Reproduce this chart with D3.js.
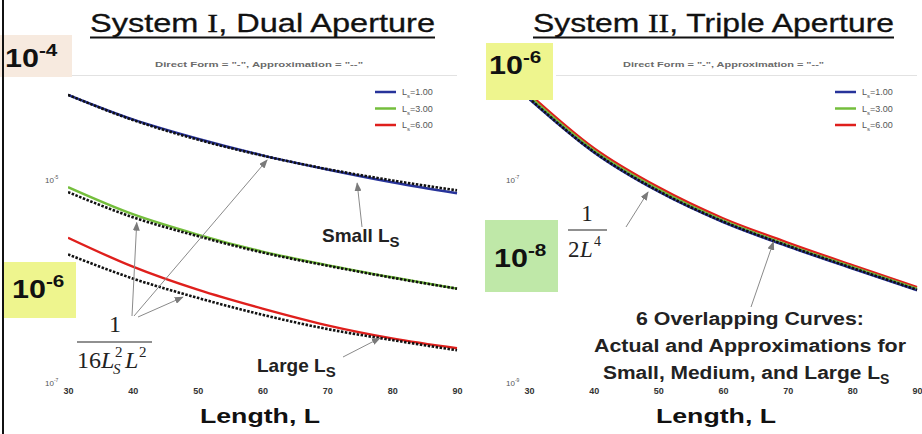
<!DOCTYPE html>
<html>
<head>
<meta charset="utf-8">
<script src="https://cdnjs.cloudflare.com/ajax/libs/d3/7.8.5/d3.min.js"></script>
<style>
	body { margin: 0; background: #fff; }
	svg { display: block; }
	.sans { font-family: "Liberation Sans", Arial, sans-serif; }
	.serif { font-family: "Liberation Serif", "Times New Roman", serif; }
	.tick text { font-family: "Liberation Sans", Arial, sans-serif; font-size: 9px; font-weight: bold; fill: #333; }
	.arrowLine { stroke: #8a8a8a; stroke-width: 1; fill: none; }
</style>
</head>
<body>
<div id="chart"></div>
<script>
//--------------------------------- Data ---------------------------------

var lengths = [30, 40, 50, 60, 70, 80, 90];
var xTicks = [30, 40, 50, 60, 70, 80, 90];
var legendLabels = ["1.00", "3.00", "6.00"];

//System I, dual aperture: direct form (solid) and approximation (dashed)
var dualDirect_Ls1 = [6.9e-5, 3.95e-5, 2.55e-5, 1.75e-5, 1.27e-5, 9.5e-6, 7.4e-6];
var dualApprox_Ls1 = [6.9e-5, 3.9e-5, 2.5e-5, 1.74e-5, 1.28e-5, 9.9e-6, 7.9e-6];
var dualDirect_Ls3 = [8.5e-6, 4.6e-6, 2.9e-6, 1.97e-6, 1.45e-6, 1.1e-6, 8.5e-7];
var dualApprox_Ls3 = [7.6e-6, 4.3e-6, 2.8e-6, 1.93e-6, 1.43e-6, 1.09e-6, 8.5e-7];
var dualDirect_Ls6 = [2.7e-6, 1.4e-6, 8.3e-7, 5.4e-7, 3.7e-7, 2.75e-7, 2.2e-7];
var dualApprox_Ls6 = [1.85e-6, 1.07e-6, 6.9e-7, 4.7e-7, 3.4e-7, 2.65e-7, 2.1e-7];

//System II, triple aperture: all six curves nearly overlap
var tripleDirect_Ls1 = [6.3e-7, 1.88e-7, 7.7e-8, 3.85e-8, 2.22e-8, 1.34e-8, 8.2e-9];
var tripleDirect_Ls3 = [6.7e-7, 1.97e-7, 8.1e-8, 4.0e-8, 2.3e-8, 1.39e-8, 8.5e-9];
var tripleDirect_Ls6 = [7.1e-7, 2.07e-7, 8.5e-8, 4.2e-8, 2.42e-8, 1.45e-8, 8.8e-9];
var tripleApprox = [6.4e-7, 1.9e-7, 7.8e-8, 3.9e-8, 2.25e-8, 1.36e-8, 8.3e-9];

//Visible y tick labels (exponents), the others are covered by the pasted boxes
var dualYTicks = [-5, -7];
var tripleYTicks = [-7, -9];

var seriesColors = ["#27339a", "#74be3c", "#df1f1c"];

//--------------------------------- Set up svg ---------------------------------

var width = 922, height = 434;

var svg = d3.select("#chart").append("svg")
	.attr("width", width)
	.attr("height", height);

var defs = svg.append("defs");
defs.append("marker")
	.attr("id", "arrowHead")
	.attr("markerUnits", "userSpaceOnUse")
	.attr("markerWidth", 9).attr("markerHeight", 7)
	.attr("refX", 8).attr("refY", 3.5)
	.attr("orient", "auto")
	.append("path")
	.attr("d", "M0,0 L9,3.5 L0,7 z")
	.attr("fill", "#7a7a7a");

var plotTop = 76, plotBottom = 383;

//Scales for the two panels
var xDual = d3.scaleLinear().domain([30, 90]).range([68, 457]);
var yDual = d3.scaleLog().domain([1e-7, 1e-4]).range([383, 78.5]);
var xTriple = d3.scaleLinear().domain([30, 90]).range([529, 917]);
var yTriple = d3.scaleLog().domain([1e-9, 1e-6]).range([383, 78.5]);

[["clipDual", xDual], ["clipTriple", xTriple]].forEach(function(c) {
	defs.append("clipPath").attr("id", c[0])
		.append("rect")
		.attr("x", c[1].range()[0]).attr("y", plotTop)
		.attr("width", c[1].range()[1] - c[1].range()[0] + 2)
		.attr("height", plotBottom - plotTop + 4);
});

//--------------------------------- Panel frame: titles, axes, legend ---------------------------------

function drawPanel(x, y, opts) {
	var g = svg.append("g");

	//faint top line of the axes box
	g.append("line")
		.attr("x1", opts.topLineStart).attr("x2", x.range()[1])
		.attr("y1", 75.5).attr("y2", 75.5)
		.style("stroke", "#e2e2e2");

	//Title with underline
	var title = g.append("text")
		.attr("class", "sans")
		.attr("x", opts.titleX).attr("y", 32)
		.attr("textLength", opts.titleW)
		.attr("lengthAdjust", "spacingAndGlyphs")
		.style("font-size", "25px")
		.style("fill", "#111")
		.style("stroke", "#111").style("stroke-width", 0.3);
	title.append("tspan").text("System ");
	title.append("tspan").attr("class", "serif").text(opts.roman);
	title.append("tspan").text(opts.rest);
	g.append("line")
		.attr("x1", opts.titleX).attr("x2", opts.titleX + opts.titleW)
		.attr("y1", 37.5).attr("y2", 37.5)
		.style("stroke", "#111").style("stroke-width", 2);

	//Subtitle
	g.append("text")
		.attr("class", "sans")
		.attr("x", opts.subX).attr("y", 67)
		.attr("textLength", opts.subW)
		.attr("lengthAdjust", "spacingAndGlyphs")
		.style("font-size", "8px").style("font-weight", "bold")
		.style("fill", "#6a6a6a")
		.text('Direct Form = "-", Approximation = "--"');

	//x axis tick labels
	var xAxis = d3.axisBottom(x).tickValues(xTicks).tickSize(0).tickPadding(5);
	g.append("g")
		.attr("transform", "translate(0," + plotBottom + ")")
		.call(xAxis)
		.call(function(a) { a.select(".domain").remove(); });

	//y axis tick labels (10^n)
	var yl = g.selectAll(".yLab")
		.data(opts.yTicks)
		.enter().append("text")
		.attr("class", "yLab sans")
		.attr("x", x.range()[0] - 23)
		.attr("y", function(d) { return y(Math.pow(10, d)) + 3; })
		.style("font-size", "8px").style("fill", "#555");
	yl.append("tspan").text("10");
	yl.append("tspan").attr("dy", -4).style("font-size", "5px").text(function(d) { return d; });

	//x axis title
	g.append("text")
		.attr("class", "sans")
		.attr("x", opts.xTitleX).attr("y", 423)
		.attr("textLength", 120)
		.attr("lengthAdjust", "spacingAndGlyphs")
		.style("font-size", "21px").style("font-weight", "bold")
		.style("fill", "#111")
		.text("Length, L");

	//Legend
	var lx = x.range()[1] - 82;
	var leg = g.selectAll(".legend")
		.data(legendLabels)
		.enter().append("g")
		.attr("class", "legend")
		.attr("transform", function(d, i) { return "translate(" + lx + "," + (92 + i * 16.5) + ")"; });
	leg.append("line")
		.attr("x1", 0).attr("x2", 21)
		.style("stroke", function(d, i) { return seriesColors[i]; })
		.style("stroke-width", 2.5);
	var lt = leg.append("text")
		.attr("class", "sans")
		.attr("x", 27).attr("y", 3)
		.style("font-size", "9px").style("fill", "#555");
	lt.append("tspan").text("L");
	lt.append("tspan").attr("dy", 3).style("font-size", "6px").text("s");
	lt.append("tspan").attr("dy", -3).text(function(d) { return "=" + d; });

	return g;
}

drawPanel(xDual, yDual, {
	topLineStart: 72, titleX: 90, titleW: 345, roman: "I", rest: ", Dual Aperture",
	subX: 155, subW: 208, yTicks: dualYTicks, xTitleX: 200
});
drawPanel(xTriple, yTriple, {
	topLineStart: 556, titleX: 533, titleW: 361, roman: "II", rest: ", Triple Aperture",
	subX: 623, subW: 201, yTicks: tripleYTicks, xTitleX: 656
});

//--------------------------------- Curves ---------------------------------

function drawCurve(x, y, clip, values, color, dashed) {
	var line = d3.line()
		.x(function(d, i) { return x(lengths[i]); })
		.y(function(d) { return y(d); })
		.curve(d3.curveMonotoneX);
	svg.append("path")
		.datum(values)
		.attr("clip-path", "url(#" + clip + ")")
		.attr("d", line)
		.style("fill", "none")
		.style("stroke", color)
		.style("stroke-width", dashed ? 2.6 : 2.4)
		.style("stroke-dasharray", dashed ? "2.5,1.5" : null);
}

var dualSeries = [
	[dualDirect_Ls1, dualApprox_Ls1],
	[dualDirect_Ls3, dualApprox_Ls3],
	[dualDirect_Ls6, dualApprox_Ls6]
];
dualSeries.forEach(function(s, i) {
	drawCurve(xDual, yDual, "clipDual", s[0], seriesColors[i], false);
	drawCurve(xDual, yDual, "clipDual", s[1], "#111", true);
});

drawCurve(xTriple, yTriple, "clipTriple", tripleDirect_Ls6, seriesColors[2], false);
drawCurve(xTriple, yTriple, "clipTriple", tripleDirect_Ls3, seriesColors[1], false);
drawCurve(xTriple, yTriple, "clipTriple", tripleDirect_Ls1, seriesColors[0], false);
drawCurve(xTriple, yTriple, "clipTriple", tripleApprox, "#111", true);

//--------------------------------- Pasted exponent boxes ---------------------------------

function bigLabel(bx, by, bw, bh, fill, tx, ty, exp) {
	svg.append("rect")
		.attr("x", bx).attr("y", by).attr("width", bw).attr("height", bh)
		.style("fill", fill);
	//the pasted labels are a little wider than the font
	var t = svg.append("text")
		.attr("class", "sans")
		.attr("transform", "translate(" + tx + "," + ty + ") scale(1.22,1)")
		.style("font-size", "25px").style("font-weight", "bold").style("fill", "#111");
	t.append("tspan").text("10");
	t.append("tspan").attr("dy", -11).style("font-size", "17px").text(exp);
}

bigLabel(0, 35, 72, 42, "#f7eadf", 5, 67, "-4");
bigLabel(4, 262, 72, 56, "#eef58e", 12, 298, "-6");
bigLabel(486, 43, 67, 57, "#eef58e", 489, 74, "-6");
bigLabel(485, 220, 73, 72, "#bfe8a8", 494, 267, "-8");

//--------------------------------- Annotations ---------------------------------

function arrow(x1, y1, x2, y2) {
	svg.append("line")
		.attr("class", "arrowLine")
		.attr("x1", x1).attr("y1", y1)
		.attr("x2", x2).attr("y2", y2)
		.attr("marker-end", "url(#arrowHead)");
}

//Left panel: arrows from the fraction to the three approximations
arrow(132, 316, xDual(40.6), yDual(3.8e-6));
arrow(134, 316, xDual(60.7), yDual(1.57e-5));
arrow(138, 317, xDual(47.7), yDual(7.0e-7));
arrow(362, 227, xDual(74.6), yDual(9.3e-6));
arrow(343, 357, xDual(78.1), yDual(2.77e-7));

//Right panel arrows
arrow(626, 227, xTriple(48.4), yTriple(7.6e-8));
arrow(751, 307, xTriple(67.8), yTriple(2.45e-8));

//Fraction 1 / (16 Ls^2 L^2)
var frac = svg.append("g").attr("class", "serif").style("fill", "#222");
frac.append("text").attr("x", 115).attr("y", 332).attr("text-anchor", "middle").style("font-size", "24px").text("1");
frac.append("line").attr("x1", 77).attr("x2", 152).attr("y1", 342).attr("y2", 342).style("stroke", "#222").style("stroke-width", 1.2);
frac.append("text").attr("x", 77).attr("y", 368).style("font-size", "24px").text("16");
frac.append("text").attr("x", 101).attr("y", 368).style("font-size", "24px").style("font-style", "italic").text("L");
frac.append("text").attr("x", 113).attr("y", 374).style("font-size", "15px").style("font-style", "italic").text("S");
frac.append("text").attr("x", 115).attr("y", 357).style("font-size", "15px").text("2");
frac.append("text").attr("x", 125).attr("y", 368).style("font-size", "24px").style("font-style", "italic").text("L");
frac.append("text").attr("x", 139).attr("y", 357).style("font-size", "15px").text("2");

//Fraction 1 / (2 L^4)
var frac2 = svg.append("g").attr("class", "serif").style("fill", "#222");
frac2.append("text").attr("x", 587).attr("y", 221).attr("text-anchor", "middle").style("font-size", "23px").text("1");
frac2.append("line").attr("x1", 568).attr("x2", 607).attr("y1", 230).attr("y2", 230).style("stroke", "#222").style("stroke-width", 1.2);
frac2.append("text").attr("x", 568).attr("y", 257).style("font-size", "23px").text("2");
frac2.append("text").attr("x", 580).attr("y", 257).style("font-size", "23px").style("font-style", "italic").text("L");
frac2.append("text").attr("x", 594).attr("y", 246).style("font-size", "14px").text("4");

//Bold text labels
function lsLabel(x, y, main) {
	var t = svg.append("text")
		.attr("class", "sans")
		.attr("x", x).attr("y", y)
		.style("font-size", "19px").style("font-weight", "bold").style("fill", "#222");
	t.append("tspan").text(main);
	t.append("tspan").attr("dy", 5).style("font-size", "15px").text("S");
	return t;
}
lsLabel(322, 242, "Small L");
lsLabel(257, 372, "Large L");

var noteLines = [
	{text: "6 Overlapping Curves:", y: 325, w: 228},
	{text: "Actual and Approximations for", y: 352, w: 312},
	{text: "Small, Medium, and Large L", y: 379, w: 277}
];
noteLines.forEach(function(d, i) {
	var t = svg.append("text")
		.attr("class", "sans")
		.attr("x", 750 - (i === 2 ? 147 : d.w / 2)).attr("y", d.y)
		.attr("textLength", d.w)
		.attr("lengthAdjust", "spacingAndGlyphs")
		.style("font-size", "17.5px").style("font-weight", "bold").style("fill", "#222")
		.text(d.text);
	if (i === 2) {
		svg.append("text")
			.attr("class", "sans")
			.attr("x", 880).attr("y", 384)
			.style("font-size", "14px").style("font-weight", "bold").style("fill", "#222")
			.text("S");
	}
});

//Slide border on the left
svg.append("line")
	.attr("x1", 3).attr("x2", 3).attr("y1", 0).attr("y2", height)
	.style("stroke", "#111").style("stroke-width", 2);
</script>
</body>
</html>
